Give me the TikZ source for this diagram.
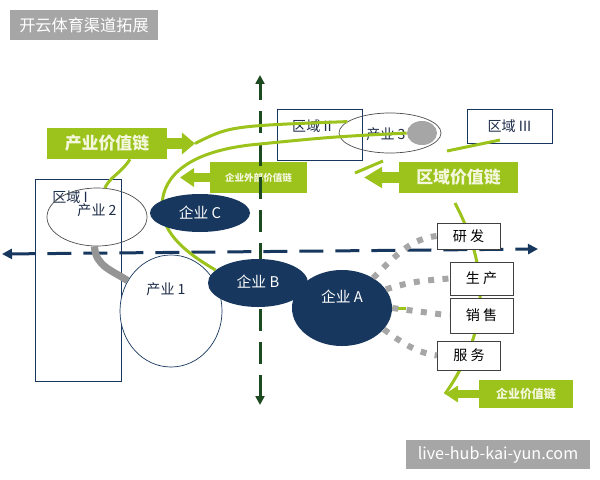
\documentclass[tikz,border=0pt]{standalone}
\usepackage{fontspec}
\setmainfont{Noto Sans CJK SC}
\usepackage{xcolor}
\definecolor{navy}{HTML}{17375E}
\definecolor{ink}{HTML}{1C2B48}
\definecolor{leaf}{HTML}{9BC31C}
\definecolor{axisgreen}{HTML}{1E4A22}
\definecolor{ash}{HTML}{A6A6A6}
\definecolor{cream}{HTML}{F4F7DC}
\usepackage{tikz}
\usetikzlibrary{arrows.meta,shapes.geometric,calc}

\tikzset{
  tag/.style={fill=ash,text=white,inner sep=0pt,font=\fontsize{11.5}{13}\selectfont},
  chainbox/.style={fill=leaf,text=cream,inner sep=0pt},
  region/.style={draw=navy,line width=0.7pt,inner sep=0pt},
  industry/.style={ellipse,draw=black!70,line width=0.5pt,inner sep=0pt},
  firm/.style={ellipse,fill=navy,text=white,inner sep=0pt,font=\fontsize{10.5}{12}\selectfont},
  stage/.style={draw=black!75,fill=white,line width=0.7pt,inner sep=0pt,minimum width=15.75mm,font=\fontsize{10}{12}\selectfont},
  link/.style={leaf,line width=0.75mm},
  dotlink/.style={ash,line width=1.5mm,dash pattern=on 1.5mm off 2.1mm},
  lbl/.style={text=ink,font=\fontsize{10}{12}\selectfont}
}

\begin{document}
\begin{tikzpicture}[x=0.025cm,y=-0.025cm]
  \useasboundingbox (0,0) rectangle (600,480);
  % corner tags
  \node[tag,minimum width=37mm,minimum height=7.5mm] (title) at (84,25) {开云体育渠道拓展};
  \node[tag,minimum width=46mm,minimum height=7.25mm] (site) at (498,454.5) {live-hub-kai-yun.com};

  % green value chain arrows (box + shaft with head)
  \node[chainbox,minimum width=30mm,minimum height=7.75mm,font=\bfseries\fontsize{12}{14}\selectfont] (indChain) at (107,143.5) {产业价值链};
  \coordinate (indTip) at (195,143.5);
  \draw[leaf,line width=2.75mm,-{Triangle[length=3.25mm,width=5.25mm]}] (indChain.east) -- (indTip);
  \node[chainbox,minimum width=24.25mm,minimum height=7.75mm,font=\bfseries\fontsize{6.8}{8}\selectfont] (extChain) at (258.5,177.5) {企业外部价值链};
  \coordinate (extTip) at (180,177.5);
  \draw[leaf,line width=2.4mm,-{Triangle[length=3.5mm,width=4.5mm]}] (extChain.west) -- (extTip);
  \node[chainbox,minimum width=29.75mm,minimum height=7.75mm,font=\bfseries\fontsize{12}{14}\selectfont] (regChain) at (458.5,177.5) {区域价值链};
  \coordinate (regTip) at (364,177.5);
  \draw[leaf,line width=2.6mm,-{Triangle[length=4.5mm,width=5mm]}] (regChain.west) -- (regTip);
  \node[chainbox,minimum width=23.5mm,minimum height=7mm,font=\bfseries\fontsize{8.5}{10}\selectfont] (firmChain) at (526,394) {企业价值链};
  \coordinate (firmTip) at (445,394);
  \draw[leaf,line width=2mm,-{Triangle[length=3.25mm,width=4mm]}] (firmChain.west) -- (firmTip);

  % value chain line behind the stages
  \coordinate (vcTop) at (455,203);
  \draw[link] (vcTop) .. controls (490,270) and (490,330) .. (firmTip);

  % axes
  \coordinate (hL) at (2,254); \coordinate (hR) at (538,249);
  \coordinate (vT) at (260,75); \coordinate (vB) at (260,405);
  \draw[navy,line width=0.75mm,dash pattern=on 6mm off 3mm,{Triangle[length=2.5mm,width=2.5mm]}-{Triangle[length=2.5mm,width=2.5mm]}] (hL) -- (hR);
  \draw[axisgreen,line width=0.75mm,dash pattern=on 5.5mm off 2.75mm,{Triangle[length=2.2mm,width=2.2mm]}-{Triangle[length=2.2mm,width=2.2mm]}] (vB) -- (vT);

  % regions
  \node[region,minimum width=21.25mm,minimum height=50.25mm] (reg1) at (78.5,280.5) {};
  \node[lbl] (reg1lbl) at (70,197) {区域 I};
  \node[region,minimum width=21mm,minimum height=12.75mm] (reg2) at (320,134.5) {};
  \node[lbl] (reg2lbl) at (312,126) {区域 II};
  \node[region,minimum width=21.25mm,minimum height=8.5mm,lbl] (reg3) at (509.5,126) {区域 III};

  % industries
  \node[industry,minimum width=25mm,minimum height=14.5mm] (ind2) at (97,217) {};
  \node[lbl] (ind2lbl) at (97,210) {产业 2};
  \node[industry,minimum width=25.5mm,minimum height=10mm] (ind3) at (390,133) {};
  \node[ellipse,fill=ash,inner sep=0pt,minimum width=7.5mm,minimum height=6mm] (blob) at (422,133) {};
  \node[lbl] (ind3lbl) at (386,134) {产业 3};
  \node[industry,draw=navy,fill=white,minimum width=25.5mm,minimum height=28mm] (ind1) at (171,311) {};
  \node[lbl] (ind1lbl) at (166,289) {产业 1};

  % stages of the firm
  \foreach \name/\txt/\cx/\cy/\h in {rd/研 发/468.5/236/6.5, prod/生 产/481.5/278.5/8.25,
      sales/销 售/481.5/315.5/8.75, serv/服 务/469/355.5/7.25}
    \node[stage,minimum height=\h mm] (\name) at (\cx,\cy) {\txt};

  % firms A and B
  \node[firm,minimum width=25mm,minimum height=12mm] (B) at (258,283) {};
  \node[text=white,font=\fontsize{10.5}{12}\selectfont] (Blbl) at (258,282) {企业 B};
  \node[firm,minimum width=25mm,minimum height=19mm] (A) at (342,308) {};
  \node[text=white,font=\fontsize{10.5}{12}\selectfont] (Albl) at (342,297) {企业 A};

  % green links
  \draw[link] ($(indChain.south)+(23,0)$) .. controls +(-10,15) and +(6,-12) .. (ind2.75);
  \draw[link] (indTip) .. controls (230,126) .. (ind3.165);
  \draw[link] (blob.west) .. controls (330,137) .. (250,145)
    .. controls (190,152) and (163,175) .. (162,205)
    .. controls (161,235) and (190,255) .. (B.163);
  \draw[link] (A.east) -- ++(14,0);
  \coordinate (r2a) at (383,161); \coordinate (r2b) at (355,173);
  \draw[link] (r2a) -- (r2b);
  \coordinate (r3a) at (500,140); \coordinate (r3b) at (447,151);
  \draw[link] (r3a) -- (r3b);

  % grey links
  \draw[ash!90!black,line width=1.8mm] (ind2.265) .. controls +(1,20) and +(-15,-10) .. (ind1.145);
  \draw[dotlink] (A.44) .. controls +(25,-25) and +(-25,3) .. (rd.west);
  \draw[dotlink] (A.23) .. controls +(25,-8) and +(-25,2) .. (prod.west);
  \draw[dotlink] (A.east) -- (sales.west);
  \draw[dotlink] (A.-27) .. controls +(20,15) and +(-20,-3) .. (serv.west);

  % firm C on top
  \node[firm,minimum width=25mm,minimum height=9.5mm] (C) at (200,213) {企业 C};
\end{tikzpicture}
\end{document}
